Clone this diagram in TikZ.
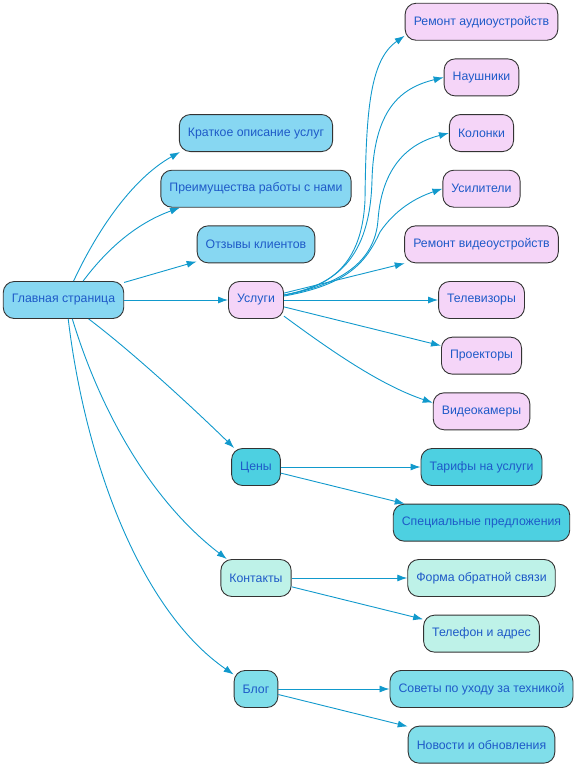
\documentclass[tikz,border=0pt]{standalone}
\usepackage{fontspec}
\setmainfont{Liberation Sans}
\usetikzlibrary{arrows.meta}

\definecolor{txtblue}{HTML}{1E5AC8}
\definecolor{edgeblue}{HTML}{1199CC}
\definecolor{mainblue}{HTML}{87D7F2}
\definecolor{servpink}{HTML}{F5D5F8}
\definecolor{pricecyan}{HTML}{4DD0E1}
\definecolor{contmint}{HTML}{BEF2E8}
\definecolor{blogcyan}{HTML}{80DEEA}

\begin{document}
\begin{tikzpicture}[x=1pt, y=1pt, node distance=55.65pt]
                % Define styles
                \tikzstyle{box_base} = [font=\fontsize{12.3}{14}\selectfont, rectangle, draw=black!80, line width=0.9pt, text=txtblue, rounded corners=11pt, minimum height=37pt, inner xsep=8.6pt]
                \tikzstyle{box_main} = [box_base, fill=mainblue]
                \tikzstyle{box_services} = [box_base, fill=servpink]
                \tikzstyle{box_prices} = [box_base, fill=pricecyan]
                \tikzstyle{box_contacts} = [box_base, fill=contmint]
                \tikzstyle{box_blog} = [box_base, fill=blogcyan]
                \tikzstyle{line} = [draw=edgeblue, line width=0.9pt, -{Latex[length=10pt,width=7pt]}]

                \useasboundingbox (0,0) rectangle (579,-768);

                % Nodes
                \node [box_main] at (63.5,-300) (main) {Главная страница};

                \node [box_services, right of=main, node distance=192.5pt] (services) {Услуги};
                \node [box_main, above of=services] (reviews) {Отзывы клиентов};
                \node [box_main, above of=reviews] (advantages) {Преимущества работы с нами};
                \node [box_main, above of=advantages] (summary) {Краткое описание услуг};
                \node [box_prices, below of=services, node distance=167pt] (prices) {Цены};
                \node [box_contacts, below of=prices, node distance=111pt] (contacts) {Контакты};
                \node [box_blog, below of=contacts, node distance=111pt] (blog) {Блог};

                \node [box_services, right of=services, node distance=225.5pt] (tv) {Телевизоры};
                \node [box_services, above of=tv] (video_repair) {Ремонт видеоустройств};
                \node [box_services, above of=video_repair] (amplifiers) {Усилители};
                \node [box_services, above of=amplifiers] (speakers) {Колонки};
                \node [box_services, above of=speakers] (headphones) {Наушники};
                \node [box_services, above of=headphones] (audio_repair) {Ремонт аудиоустройств};
                \node [box_services, below of=tv] (projectors) {Проекторы};
                \node [box_services, below of=projectors] (cameras) {Видеокамеры};

                \node [box_prices, right of=prices, node distance=225.5pt] (tariffs) {Тарифы на услуги};
                \node [box_prices, below of=tariffs] (special) {Специальные предложения};

                \node [box_contacts, right of=contacts, node distance=225.5pt] (feedback) {Форма обратной связи};
                \node [box_contacts, below of=feedback] (phone) {Телефон и адрес};

                \node [box_blog, right of=blog, node distance=225.5pt] (tips) {Советы по уходу за техникой};
                \node [box_blog, below of=tips] (news) {Новости и обновления};

                % Lines
                \path [line] (main.62) .. controls (95,-235) and (130,-180) .. (summary.194);
                \path [line] (main.44) .. controls (110,-245) and (140,-222) .. (advantages.194);
                \path [line] (main) -- (reviews);
                \path [line] (main) -- (services);
                \path [line] (main.-37) .. controls (130,-350) and (190,-405) .. (prices.139);
                \path [line] (main.-65) .. controls (100,-410) and (150,-500) .. (contacts.147);
                \path [line] (main.-76) .. controls (85,-460) and (140,-610) .. (blog.147);

                \path [line] (services.10) .. controls (330,-287) and (362,-265) .. (365,-200) .. controls (366,-110) and (370,-60) .. ([yshift=-14pt]audio_repair.west);
                \path [line] (services.10) .. controls (335,-285) and (370,-260) .. (372,-180) .. controls (374,-110) and (400,-88) .. (headphones.west);
                \path [line] (services.10) .. controls (340,-285) and (375,-262) .. (378,-220) .. controls (382,-165) and (410,-143) .. (speakers.west);
                \path [line] (services.8) .. controls (345,-285) and (365,-265) .. (380,-232) .. controls (395,-210) and (415,-198) .. (amplifiers.west);
                \path [line] (services) -- (video_repair);
                \path [line] (services) -- (tv);
                \path [line] (services) -- (projectors);
                \path [line] (services.-30) .. controls (330,-350) and (380,-385) .. (cameras.170);

                \path [line] (prices) -- (tariffs);
                \path [line] (prices) -- (special);

                \path [line] (contacts) -- (feedback);
                \path [line] (contacts) -- (phone);

                \path [line] (blog) -- (tips);
                \path [line] (blog) -- (news);
            \end{tikzpicture}
\end{document}
